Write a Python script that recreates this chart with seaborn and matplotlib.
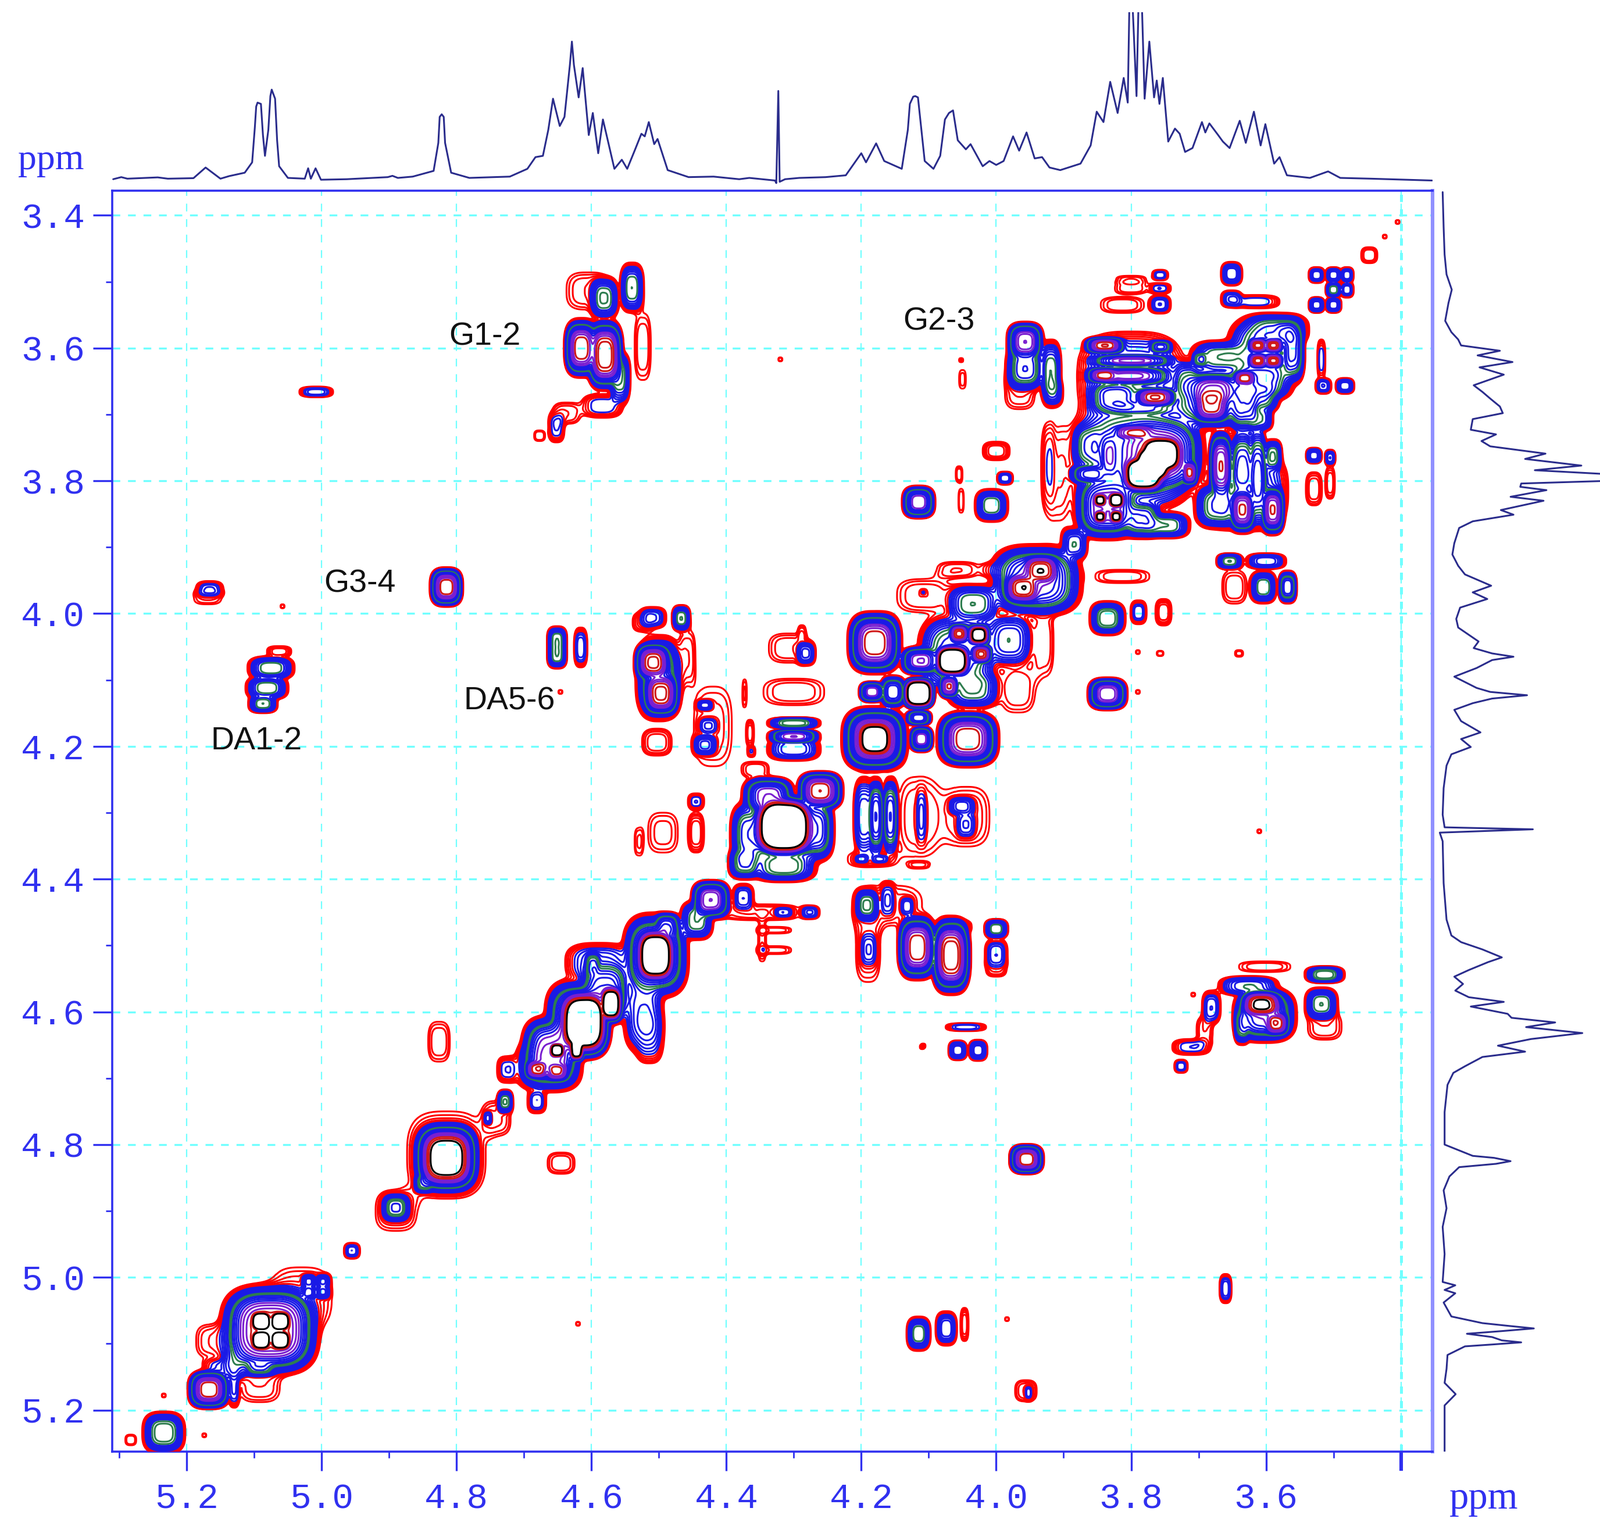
import numpy as np
import pandas as pd
import matplotlib
matplotlib.use("Agg")
import matplotlib.pyplot as plt
import seaborn as sns

# =====================================================
# 1D TRACES (ppm, intensity)
# =====================================================
top_ppm = [5.309, 5.297, 5.288, 5.243, 5.228, 5.19, 5.172, 5.15, 5.137, 5.114, 5.103, 5.095, 5.09, 5.084, 5.079,
           5.074, 5.069, 5.063, 5.05, 5.025, 5.02, 5.016, 5.009, 5.001, 4.963, 4.902, 4.895, 4.887, 4.865, 4.834,
           4.827, 4.822, 4.817, 4.808, 4.781, 4.721, 4.695, 4.683, 4.672, 4.664, 4.657, 4.647, 4.64, 4.629, 4.619,
           4.613, 4.604, 4.598, 4.59, 4.583, 4.566, 4.555, 4.547, 4.536, 4.526, 4.521, 4.515, 4.507, 4.502, 4.487,
           4.456, 4.419, 4.381, 4.366, 4.347, 4.328, 4.326, 4.323, 4.321, 4.313, 4.292,
           4.253, 4.223, 4.2, 4.193, 4.178, 4.166, 4.14, 4.131, 4.123, 4.116, 4.106, 4.093, 4.083, 4.076, 4.064,
           4.057, 4.045, 4.038, 4.02, 4.01, 4.0, 3.989, 3.975, 3.966, 3.955, 3.943, 3.932, 3.921, 3.905, 3.875,
           3.86, 3.851, 3.841, 3.831, 3.82, 3.811, 3.805, 3.8, 3.792, 3.788, 3.78, 3.773, 3.766, 3.762, 3.758,
           3.753, 3.745, 3.735, 3.728, 3.72, 3.709, 3.695, 3.69, 3.684, 3.671, 3.664, 3.654, 3.639, 3.63, 3.618,
           3.608, 3.601, 3.588, 3.58, 3.569, 3.535, 3.508, 3.49, 3.444, 3.354,
           # shoulders of the rounded peaks
           5.099, 5.097, 5.087, 5.076, 5.066, 4.825, 4.819, 4.632, 4.626, 4.128, 4.12, 4.07, 3.802, 3.796, 3.79, 3.785]
top_int = [0, 8, 2, 7, 2, 4, 45, 2, 12, 25, 65, 295, 290, 90, 190,
           345, 310, 50, 5, 2, 42, 2, 42, -2, 0, 8, 13, 5, 10, 32,
           140, 250, 140, 25, 5, 10, 40, 85, 90, 190, 310, 205, 240, 530, 315,
           428, 170, 255, 100, 230, 40, 75, 40, 110, 175, 165, 220, 135, 155, 35,
           8, 10, 0, 5, 0, -5, -15, 340, -10, 0, 5,
           8, 15, 100, 65, 138, 70, 40, 190, 318, 315, 70, 40, 90, 230, 265,
           150, 115, 135, 50, 70, 55, 70, 165, 110, 180, 80, 85, 45, 35, 60,
           130, 260, 220, 375, 255, 390, 295, 800, 320, 800, 310, 530, 315, 380, 290,
           390, 145, 195, 175, 105, 120, 220, 180, 215, 170, 145, 120, 225, 140, 260,
           130, 212, 60, 85, 15, 5, 30, 5, 2, -5,
           200, 280, 170, 320, 150, 240, 240, 440, 440, 290, 320, 255, 760, 560, 560, 760]

right_ppm = [3.365, 3.418, 3.459, 3.489, 3.512, 3.532, 3.559, 3.576, 3.587, 3.596, 3.604, 3.611, 3.621, 3.629, 3.64,
             3.656, 3.666, 3.676, 3.688, 3.698, 3.707, 3.723, 3.73, 3.74, 3.748, 3.753, 3.759, 3.767, 3.777, 3.784,
             3.79, 3.8, 3.804, 3.809, 3.814, 3.824, 3.83, 3.844, 3.851, 3.861, 3.871, 3.894, 3.911, 3.928, 3.941,
             3.958, 3.968, 3.978, 3.991, 4.008, 4.021, 4.042, 4.052, 4.065, 4.082, 4.095, 4.112, 4.123, 4.135, 4.145,
             4.162, 4.179, 4.189, 4.201, 4.212, 4.229, 4.263, 4.303, 4.322, 4.325, 4.33,
             4.343, 4.406, 4.461, 4.485, 4.495, 4.506, 4.518, 4.525, 4.537, 4.547, 4.558, 4.568, 4.578, 4.585, 4.592,
             4.603, 4.609, 4.616, 4.623, 4.632, 4.641, 4.651, 4.66, 4.668, 4.682, 4.692, 4.71, 4.751, 4.8, 4.817,
             4.825, 4.834, 4.848, 4.869, 4.896, 4.924, 4.965, 5.007, 5.012, 5.019, 5.024, 5.038, 5.059, 5.069, 5.077,
             5.085, 5.09, 5.098, 5.104, 5.117, 5.138, 5.159, 5.176, 5.193, 5.262,
             # shoulders of the rounded peaks
             4.118, 4.128, 4.06, 4.07, 4.82, 4.829, 5.073, 5.081, 5.095, 5.101]
right_int = [-5, 0, 5, 15, 42, 25, 8, 40, 75, 90, 290, 175, 355, 185, 310,
             155, 200, 240, 290, 305, 150, 140, 270, 195, 240, 370, 525, 420, 710, 470,
             850, 850, 400, 395, 530, 345, 515, 295, 360, 150, 80, 55, 45, 75, 110,
             245, 150, 225, 85, 65, 75, 180, 155, 360, 170, 55, 170, 430, 150, 55,
             90, 190, 90, 140, 40, 15, 0, -5, 5, 460, -20,
             -5, 0, 15, 40, 90, 200, 300, 230, 130, 55, 100, 60, 130, 310, 140,
             330, 350, 575, 425, 715, 450, 280, 420, 200, 110, 50, 20, 5, 5, 150,
             345, 80, 30, 0, 15, -5, 5, -5, 60, 5, 60, 0, 40, 200, 465,
             120, 250, 400, 110, 20, 15, 5, 62, 5, 5,
             240, 250, 250, 250, 260, 270, 330, 300, 300, 260]

# =====================================================
# 2D PEAKS: (f2 ppm, f1 ppm, half width f2, half width f1, depth in contour levels)
# =====================================================
g12_group = [(4.607, 3.514, .030, .028, 3), (4.581, 3.525, .022, .032, 12), (4.540, 3.509, .018, .038, 12),
             (4.615, 3.600, .026, .045, 21), (4.580, 3.610, .028, .055, 22), (4.558, 3.645, .016, .040, 12),
             (4.524, 3.598, .012, .050, 3), (4.584, 3.687, .030, .018, 6), (4.637, 3.698, .020, .016, 3),
             (4.652, 3.720, .012, .022, 6), (4.677, 3.732, .008, .008, 2), (5.008, 3.666, .025, .008, 8)]
g23_group = [(3.957, 3.590, .028, .030, 19), (3.957, 3.630, .030, .035, 14), (3.919, 3.637, .016, .050, 12),
             (3.965, 3.667, .022, .025, 3), (3.915, 3.667, .014, .020, 8), (4.050, 3.647, .005, .014, 1.5)]
upper_right = [(3.800, 3.497, .022, .006, 3), (3.757, 3.490, .012, .008, 7), (3.800, 3.510, .024, .008, 3),
               (3.757, 3.510, .016, .008, 6), (3.813, 3.535, .032, .012, 3), (3.757, 3.534, .016, .014, 8),
               (3.651, 3.488, .016, .018, 10), (3.651, 3.526, .016, .013, 8), (3.615, 3.530, .035, .010, 6),
               (3.525, 3.490, .012, .012, 9), (3.500, 3.490, .012, .012, 10), (3.480, 3.490, .010, .012, 9),
               (3.525, 3.535, .012, .012, 11), (3.500, 3.535, .012, .012, 10), (3.500, 3.512, .012, .012, 12),
               (3.480, 3.512, .010, .012, 8), (3.447, 3.460, .012, .012, 3), (3.518, 3.617, .006, .030, 6),
               (3.515, 3.657, .012, .012, 8), (3.483, 3.657, .014, .012, 10)]
block_top = [(3.839, 3.596, .032, .013, 21), (3.756, 3.598, .018, .010, 14), (3.799, 3.619, .065, .009, 18),
             (3.802, 3.642, .065, .014, 18), (3.842, 3.641, .025, .012, 20), (3.764, 3.674, .035, .015, 21),
             (3.825, 3.674, .040, .025, 14), (3.790, 3.690, .070, .012, 12), (3.800, 3.645, .080, .070, 10),
             (3.612, 3.596, .016, .012, 21), (3.589, 3.596, .016, .012, 21), (3.612, 3.619, .016, .012, 21),
             (3.589, 3.619, .016, .012, 21), (3.570, 3.578, .020, .020, 12), (3.586, 3.572, .050, .025, 12),
             (3.560, 3.604, .018, .050, 15), (3.604, 3.607, .055, .055, 13), (3.667, 3.613, .045, .025, 12),
             (3.698, 3.617, .012, .012, 12), (3.609, 3.651, .050, .030, 14), (3.609, 3.674, .030, .025, 13),
             (3.632, 3.645, .018, .012, 20), (3.681, 3.686, .030, .030, 20), (3.678, 3.663, .040, .025, 18),
             (3.681, 3.674, .065, .050, 15), (3.632, 3.680, .025, .050, 15), (3.609, 3.706, .020, .020, 11),
             (3.718, 3.648, .020, .030, 10)]
block_bottom = [(3.755, 3.760, .035, .030, 28), (3.782, 3.790, .035, .030, 28), (3.768, 3.775, .030, .030, 28),
                (3.760, 3.760, .070, .060, 19),
                (3.846, 3.829, .011, .011, 23), (3.822, 3.829, .013, .013, 26), (3.846, 3.854, .010, .010, 23),
                (3.822, 3.854, .011, .011, 23), (3.836, 3.840, .050, .050, 18), (3.863, 3.747, .025, .035, 12),
                (3.862, 3.790, .030, .015, 16), (3.833, 3.762, .015, .040, 15), (3.796, 3.727, .035, .012, 19),
                (3.796, 3.762, .095, .085, 15), (3.713, 3.788, .012, .020, 20), (3.747, 3.867, .035, .020, 12),
                (3.784, 3.858, .030, .030, 14), (3.667, 3.777, .018, .055, 20), (3.635, 3.844, .020, .035, 20),
                (3.635, 3.777, .020, .055, 14), (3.612, 3.791, .014, .075, 15), (3.590, 3.844, .018, .038, 20),
                (3.590, 3.762, .014, .025, 12), (3.672, 3.838, .035, .035, 13), (3.625, 3.815, .058, .060, 10),
                (3.910, 3.790, .020, .070, 3), (3.529, 3.762, .012, .012, 11), (3.505, 3.765, .008, .012, 9),
                (3.529, 3.812, .012, .025, 4), (3.505, 3.803, .007, .024, 4)]
diag_middle = [(4.180, 4.044, .041, .048, 21), (4.042, 4.189, .047, .043, 21), (4.180, 4.189, .050, .050, 21),
               (4.180, 4.189, .030, .030, 24),
               (4.115, 4.120, .025, .025, 30), (4.065, 4.071, .028, .025, 30), (4.026, 4.032, .018, .017, 25),
               (4.055, 4.030, .016, .015, 21), (4.022, 4.061, .017, .015, 21), (4.070, 4.110, .015, .018, 20),
               (4.113, 4.071, .030, .022, 18), (4.184, 4.118, .020, .016, 18), (4.153, 4.118, .020, .025, 16),
               (4.111, 4.189, .018, .020, 18), (4.115, 4.157, .020, .012, 16), (4.057, 4.060, .060, .060, 14),
               (3.980, 4.040, .035, .040, 11), (4.034, 4.114, .040, .030, 12), (4.034, 3.985, .040, .030, 12),
               (3.961, 3.962, .030, .025, 21), (3.934, 3.934, .030, .025, 21), (3.941, 3.950, .070, .055, 17),
               (3.884, 3.895, .020, .025, 11), (3.930, 4.044, .015, .050, 3), (4.107, 3.973, .040, .025, 3),
               (4.057, 3.934, .030, .012, 3), (4.000, 3.934, .020, .010, 3), (3.968, 4.114, .025, .035, 3)]
diag_big = [(4.315, 4.321, .050, .050, 30), (4.261, 4.267, .035, .030, 21), (4.338, 4.275, .040, .030, 18),
            (4.365, 4.333, .030, .050, 14), (4.269, 4.325, .030, .050, 16), (4.373, 4.376, .025, .025, 13),
            (4.315, 4.380, .050, .025, 13), (4.423, 4.431, .030, .030, 19), (4.444, 4.462, .025, .030, 12),
            (4.488, 4.470, .020, .020, 15), (4.357, 4.235, .020, .012, 3)]
around_big = [(4.300, 4.165, .040, .009, 13), (4.300, 4.185, .040, .011, 18), (4.300, 4.204, .040, .018, 10),
              (4.300, 4.118, .045, .020, 3), (4.365, 4.180, .006, .020, 5), (4.363, 4.208, .006, .008, 5),
              (4.307, 4.052, .030, .022, 3), (4.282, 4.060, .014, .018, 9), (4.288, 4.028, .005, .010, 2),
              (4.432, 4.138, .012, .008, 8), (4.427, 4.169, .014, .012, 6), (4.432, 4.198, .018, .016, 10),
              (4.420, 4.170, .028, .060, 2.5), (4.373, 4.120, .003, .020, 2), (4.178, 4.306, .012, .060, 16),
              (4.157, 4.306, .012, .060, 15), (4.196, 4.306, .016, .060, 11), (4.115, 4.306, .030, .060, 3),
              (4.111, 4.306, .007, .040, 6), (4.051, 4.290, .020, .014, 9), (4.045, 4.318, .014, .020, 7),
              (4.045, 4.306, .035, .045, 3), (4.200, 4.370, .010, .006, 6), (4.172, 4.370, .012, .006, 6),
              (4.185, 4.370, .035, .012, 3), (4.115, 4.379, .012, .004, 1.5), (4.375, 4.427, .016, .020, 8),
              (4.315, 4.450, .014, .008, 7), (4.276, 4.450, .014, .010, 8), (4.350, 4.450, .060, .012, 3),
              (4.192, 4.439, .018, .025, 12), (4.161, 4.431, .010, .025, 6), (4.132, 4.441, .010, .014, 7),
              (4.160, 4.440, .050, .030, 2.5), (4.494, 4.330, .022, .030, 2.5), (4.445, 4.283, .012, .012, 6),
              (4.445, 4.330, .012, .030, 5), (4.530, 4.344, .006, .020, 2)]
diag_lower = [(4.505, 4.515, .030, .042, 29), (4.505, 4.515, .050, .065, 18), (4.589, 4.526, .050, .030, 8),
              (4.598, 4.529, .012, .020, 12), (4.611, 4.617, .040, .055, 28), (4.571, 4.588, .018, .030, 27),
              (4.651, 4.658, .012, .012, 26), (4.622, 4.658, .012, .018, 25), (4.660, 4.660, .045, .055, 18),
              (4.620, 4.610, .050, .060, 18), (4.580, 4.570, .040, .050, 16),
              (4.681, 4.687, .020, .016, 20), (4.651, 4.690, .020, .016, 19), (4.664, 4.681, .050, .040, 12),
              (4.523, 4.602, .030, .060, 10), (4.514, 4.637, .020, .040, 6), (4.728, 4.735, .012, .018, 12),
              (4.681, 4.735, .014, .018, 7), (4.725, 4.687, .015, .020, 6), (4.754, 4.760, .006, .010, 6),
              (4.740, 4.760, .020, .025, 3), (4.329, 4.477, .025, .005, 3), (4.329, 4.507, .025, .006, 3),
              (4.347, 4.494, .006, .030, 3), (4.189, 4.506, .012, .025, 7), (4.190, 4.505, .018, .050, 3)]
diag_bottom = [(5.234, 5.234, .032, .032, 13), (5.167, 5.169, .032, .030, 21), (5.077, 5.079, .075, .070, 21),
               (5.090, 5.066, .017, .017, 26), (5.061, 5.066, .017, .017, 26), (5.090, 5.095, .017, .017, 26),
               (5.061, 5.095, .017, .017, 26), (5.030, 5.030, .045, .045, 3), (5.115, 5.110, .030, .030, 3),
               (5.092, 5.137, .025, .012, 12),
               (5.161, 5.096, .025, .025, 3), (5.092, 5.163, .030, .025, 3), (5.130, 5.131, .018, .025, 8),
               (5.146, 5.137, .030, .015, 6), (5.130, 5.166, .008, .030, 7), (5.283, 5.245, .008, .008, 2),
               (5.019, 5.006, .011, .011, 10), (4.998, 5.006, .011, .011, 10), (5.019, 5.022, .011, .011, 10),
               (4.998, 5.022, .011, .011, 10), (4.955, 4.960, .012, .012, 8),
               (4.890, 4.895, .022, .022, 13), (4.890, 4.900, .030, .030, 3), (4.815, 4.820, .050, .055, 24.5),
               (4.849, 4.859, .015, .015, 12), (4.815, 4.815, .058, .065, 4), (4.826, 4.645, .016, .030, 3),
               (4.645, 4.828, .020, .016, 3)]
cross_left = [(5.166, 3.963, .020, .012, 7), (5.169, 3.976, .020, .010, 2), (4.815, 3.960, .025, .030, 21),
              (4.651, 4.039, .015, .020, 12), (4.651, 4.063, .015, .020, 12), (4.616, 4.051, .010, .030, 8),
              (4.509, 4.006, .020, .016, 8), (4.467, 4.007, .014, .020, 12), (4.524, 4.013, .015, .014, 3),
              (4.509, 4.073, .028, .030, 21), (4.497, 4.121, .028, .035, 21), (4.500, 4.097, .035, .065, 14),
              (4.458, 4.065, .012, .040, 3), (5.063, 4.057, .018, .008, 5), (5.075, 4.082, .035, .018, 12),
              (5.081, 4.112, .032, .018, 12), (5.087, 4.136, .022, .014, 12), (4.503, 4.194, .022, .020, 4)]
cross_right = [(4.117, 4.503, .030, .050, 21), (4.067, 4.515, .030, .060, 22), (4.000, 4.475, .018, .015, 12),
               (4.000, 4.512, .017, .022, 8), (4.000, 4.535, .015, .012, 3), (4.052, 4.471, .015, .008, 2),
               (4.045, 4.623, .030, .006, 7), (4.057, 4.658, .014, .015, 11), (4.027, 4.658, .014, .016, 11),
               (3.955, 4.822, .026, .023, 21), (3.602, 4.532, .038, .008, 3), (3.626, 4.561, .045, .015, 11),
               (3.607, 4.588, .035, .022, 22), (3.584, 4.618, .020, .020, 20), (3.636, 4.620, .012, .030, 12),
               (3.602, 4.605, .048, .042, 17), (3.681, 4.593, .014, .025, 8), (3.691, 4.628, .012, .020, 3),
               (3.711, 4.653, .028, .012, 6), (3.726, 4.682, .010, .010, 7), (3.513, 4.544, .030, .013, 13),
               (3.518, 4.588, .025, .025, 12), (3.513, 4.622, .025, .020, 3), (3.660, 5.017, .009, .022, 8),
               (3.956, 5.171, .016, .016, 3), (3.952, 5.174, .005, .010, 5), (4.115, 5.085, .018, .026, 12),
               (4.074, 5.077, .016, .026, 10), (4.047, 5.071, .006, .025, 5)]
cross_mid = [(4.055, 3.790, .005, .012, 3), (4.000, 3.755, .020, .014, 5), (3.987, 3.796, .012, .010, 8),
             (4.115, 3.832, .025, .025, 18), (4.007, 3.837, .025, .025, 12), (4.052, 3.830, .004, .018, 2),
             (3.923, 3.775, .008, .050, 3), (3.835, 4.007, .027, .026, 13), (3.789, 3.998, .012, .018, 7),
             (3.752, 3.998, .012, .020, 5), (3.835, 4.121, .030, .025, 19), (3.757, 4.060, .005, .004, 2),
             (3.813, 3.944, .040, .010, 3), (3.640, 4.060, .006, .005, 3), (3.654, 3.921, .020, .012, 12),
             (3.600, 3.921, .030, .012, 10), (3.568, 3.960, .014, .025, 15), (3.604, 3.960, .020, .025, 12),
             (3.647, 3.960, .018, .025, 3)]
dots_f2 = [3.405, 3.424, 4.052, 4.320, 5.058, 4.646, 5.234, 5.174, 4.108, 3.984, 4.620, 3.610, 4.600, 3.790, 3.790,
           3.708, 4.110, 4.108]
dots_f1 = [3.410, 3.432, 3.618, 3.617, 3.989, 4.118, 5.178, 5.238, 4.651, 5.063, 5.070, 4.328, 4.620, 4.058, 4.118,
           4.574, 4.653, 3.968]

x_ticks = [5.2, 5.0, 4.8, 4.6, 4.4, 4.2, 4.0, 3.8, 3.6, 3.4]
y_ticks = [3.4, 3.6, 3.8, 4.0, 4.2, 4.4, 4.6, 4.8, 5.0, 5.2]
x_minor = [5.3, 5.1, 4.9, 4.7, 4.5, 4.3, 4.1, 3.9, 3.7, 3.5]
y_minor = [3.5, 3.7, 3.9, 4.1, 4.3, 4.5, 4.7, 4.9, 5.1]
x_tick_labels = ["5.2", "5.0", "4.8", "4.6", "4.4", "4.2", "4.0", "3.8", "3.6", ""]
y_tick_labels = ["3.4", "3.6", "3.8", "4.0", "4.2", "4.4", "4.6", "4.8", "5.0", "5.2"]

labels = ["G1-2", "G2-3", "G3-4", "DA5-6", "DA1-2"]
label_f2 = [4.758, 4.085, 4.943, 4.722, 5.097]
label_f1 = [3.583, 3.560, 3.955, 4.132, 4.192]

BLUE = "#3030f0"
NAVY = "#2a2c8c"
CYAN = "#70ffff"
RATIO = 1.3      # ratio between two contour levels
SHAPE = 3.0      # >2 makes peaks squarer, as in the spectrum
LEVEL_COLORS = ["red"] * 5 + ["#1a1ae6"] * 6 + ["#2e7d4f"] * 2 + ["#1a1ae6"] * 4 + ["#7a1fd0"] * 3 + \
               ["#d01818"] * 2 + ["black"]


def build_field(peaks, f2, f1):
    """Sum the peak list on the ppm grid."""
    Z = np.zeros((f1.size, f2.size))
    for x0, y0, wx, wy, depth in peaks:
        amp = RATIO ** depth
        lam = np.log(amp) ** (1 / SHAPE)
        sx, sy = wx / lam, wy / lam
        reach = np.log(amp / 0.02) ** (1 / SHAPE)
        i0, i1 = np.searchsorted(f2, [x0 - reach * sx, x0 + reach * sx])
        j0, j1 = np.searchsorted(f1, [y0 - reach * sy, y0 + reach * sy])
        if i1 <= i0 or j1 <= j0:
            continue
        dx = np.abs((f2[i0:i1] - x0) / sx) ** SHAPE
        dy = np.abs((f1[j0:j1] - y0) / sy) ** SHAPE
        Z[j0:j1, i0:i1] += amp * np.exp(-(dy[:, None] + dx[None, :]))
    return Z


sns.set_theme(style="white")
plt.rcParams["font.family"] = ["Liberation Mono", "DejaVu Sans"]

W, H = 1568.0, 1502.5
fig = plt.figure(figsize=(13.76, 13.185), dpi=200, facecolor="white")
ax = fig.add_axes([110 / W, 1 - 1423 / H, (1404 - 110) / W, (1423 - 187) / H])
ax_top = fig.add_axes([110 / W, 1 - 182 / H, (1404 - 110) / W, 170 / H])
ax_right = fig.add_axes([1410 / W, 1 - 1423 / H, (W - 1410) / W, (1423 - 187) / H])

XLIM = (5.3104, 3.353)
YLIM = (5.263, 3.363)

# 2D contours
all_peaks = (g12_group + g23_group + upper_right + block_top + block_bottom + diag_middle + diag_big + around_big
             + diag_lower + diag_bottom + cross_left + cross_right + cross_mid
             + [(x, y, .003, .003, 2) for x, y in zip(dots_f2, dots_f1)])
f2 = np.arange(3.35, 5.32, 0.0012)
f1 = np.arange(3.36, 5.27, 0.0012)
Z = build_field(all_peaks, f2, f1)
levels = RATIO ** np.arange(len(LEVEL_COLORS))
ax.contour(f2, f1, Z, levels=levels, colors=LEVEL_COLORS, linewidths=1.1, zorder=3)

ax.set_xticks(x_ticks)
ax.set_xticklabels(x_tick_labels, fontsize=22, color=BLUE)
ax.set_yticks(y_ticks)
ax.set_yticklabels(y_tick_labels, fontsize=22, color=BLUE)
ax.set_xticks(x_minor, minor=True)
ax.set_yticks(y_minor, minor=True)
# set_xticks/set_yticks widen the view, so the limits come after them
ax.set_xlim(*XLIM)
ax.set_ylim(*YLIM)
ax.tick_params(axis="both", which="major", length=12, width=1.2, color=BLUE, pad=5, left=True, bottom=True)
ax.tick_params(axis="both", which="minor", length=4, width=1.0, color=BLUE, left=True, bottom=True)
ax.tick_params(axis="x", which="major", pad=7)
ax.set_axisbelow(True)
ax.xaxis.grid(True, which="major", color=CYAN, linewidth=0.8, linestyle=(0, (6, 6)))
ax.yaxis.grid(True, which="major", color=CYAN, linewidth=1.2, linestyle=(0, (4, 4)))
ax.axvline(x_ticks[-1], color=CYAN, linewidth=1.8, linestyle=(0, (2.5, 2.5)), zorder=1)
ax.xaxis.get_major_ticks()[-1].tick1line.set_color("#9090ff")
ax.xaxis.get_major_ticks()[-1].tick1line.set_markeredgewidth(2.2)
for side in ["left", "top", "bottom"]:
    ax.spines[side].set_color(BLUE)
    ax.spines[side].set_linewidth(1.3)
ax.spines["right"].set_color("#9090ff")
ax.spines["right"].set_linewidth(2.2)

for text, x, y in zip(labels, label_f2, label_f1):
    ax.text(x, y, text, family="Liberation Sans", fontsize=20, color="#111111", ha="center", va="center", zorder=5)

# 1D projections
top_df = pd.DataFrame({"ppm": top_ppm, "intensity": top_int}).sort_values("ppm", ascending=False)
sns.lineplot(data=top_df, x="ppm", y="intensity", sort=False, estimator=None, color=NAVY, linewidth=1.1, ax=ax_top)
ax_top.set_xlim(*XLIM)
ax_top.set_ylim(-25, 643)
ax_top.axis("off")

right_df = pd.DataFrame({"ppm": right_ppm, "intensity": right_int}).sort_values("ppm")
sns.lineplot(data=right_df, x="intensity", y="ppm", sort=False, estimator=None, color=NAVY, linewidth=1.1,
             ax=ax_right)
ax_right.set_xlim(-25, 806)
ax_right.set_ylim(*YLIM)
ax_right.axis("off")

fig.text(50 / W, 1 - 157 / H, "ppm", family="Liberation Serif", fontsize=23, color=BLUE, ha="center", va="center")
fig.text(1454 / W, 1 - 1469 / H, "ppm", family="Liberation Serif", fontsize=24, color=BLUE, ha="center", va="center")

fig.savefig("out.png", dpi=200, facecolor="white")
plt.close(fig)
